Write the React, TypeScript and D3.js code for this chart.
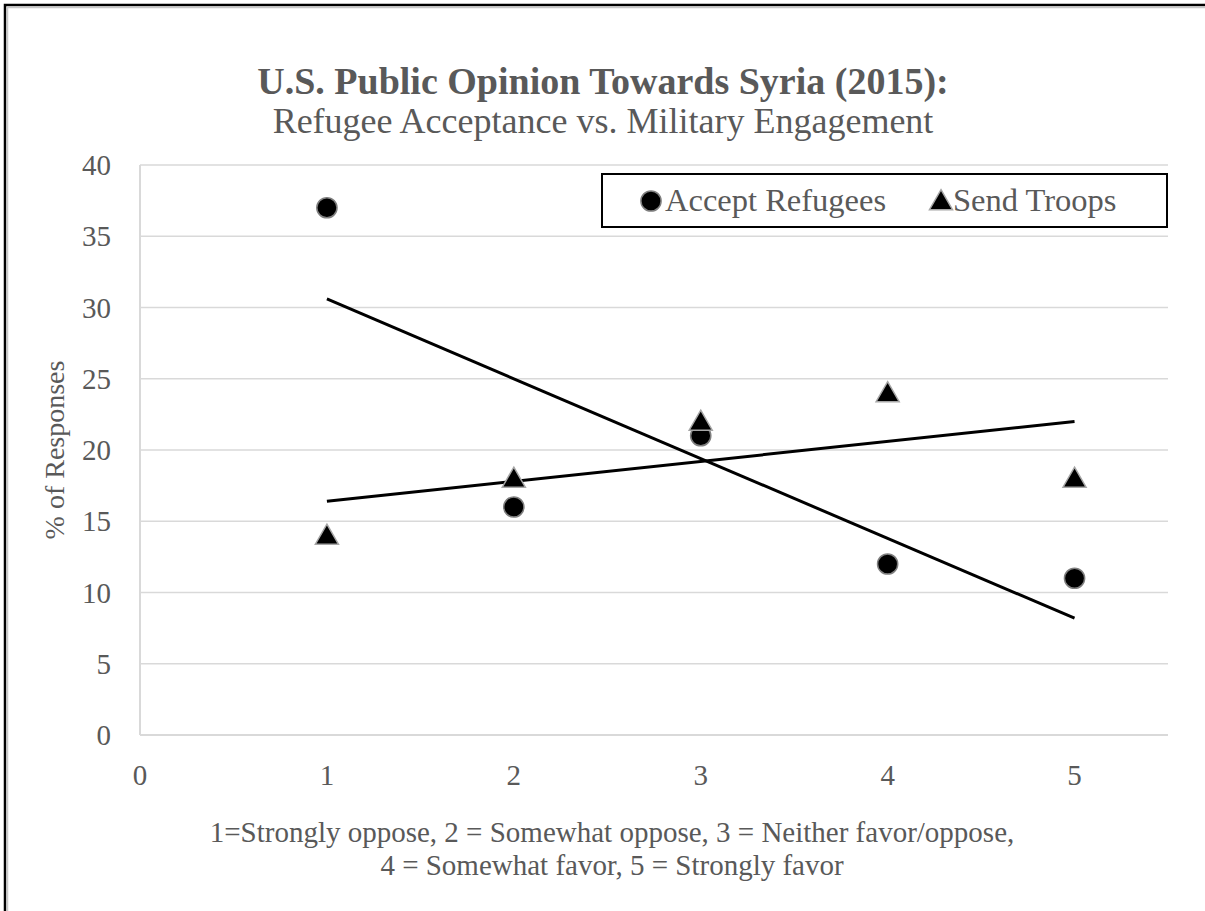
import React from "react";
import * as d3 from "d3";

// Response scale positions and survey shares (%)
const scalePoints = [1, 2, 3, 4, 5];
const acceptRefugees = [37, 16, 21, 12, 11];
const sendTroops = [14, 18, 22, 24, 18];
const yTicks = [0, 5, 10, 15, 20, 25, 30, 35, 40];
const xTicks = [0, 1, 2, 3, 4, 5];
const seriesNames = ["Accept Refugees", "Send Troops"];
const noteLines = [
  "1=Strongly oppose, 2 = Somewhat oppose, 3 = Neither favor/oppose,",
  "4 = Somewhat favor, 5 = Strongly favor",
];

const W = 1205;
const H = 911;
const plot = { left: 140, right: 1168, top: 165, bottom: 735 };
const FONT = "Liberation Serif, Times New Roman, serif";
const TEXT = "#595959";
const GRID = "#d9d9d9";

function linearFit(xs: number[], ys: number[]) {
  const mx = d3.mean(xs)!;
  const my = d3.mean(ys)!;
  const num = d3.sum(xs, (x, i) => (x - mx) * (ys[i] - my));
  const den = d3.sum(xs, (x) => (x - mx) ** 2);
  const slope = num / den;
  return (x: number) => my + slope * (x - mx);
}

export default function App() {
  const x = d3.scaleLinear().domain([0, 5.5]).range([plot.left, plot.right]);
  const y = d3.scaleLinear().domain([0, 40]).range([plot.bottom, plot.top]);

  const fitA = linearFit(scalePoints, acceptRefugees);
  const fitT = linearFit(scalePoints, sendTroops);
  const x0 = d3.min(scalePoints)!;
  const x1 = d3.max(scalePoints)!;
  const line = d3
    .line<[number, number]>()
    .x((d) => x(d[0]))
    .y((d) => y(d[1]));

  const tri = d3.symbol().type(d3.symbolTriangle).size(230)();
  const circ = d3.symbol().type(d3.symbolCircle).size(320)();

  return (
    <svg
      width={W}
      height={H}
      style={{ position: "absolute", left: 0, top: 0, background: "#fff" }}
      fontFamily={FONT}
    >
      <rect x={0} y={0} width={W} height={H} fill="#fff" />
      {/* outer frame */}
      <rect x={5} y={5} width={W + 20} height={H + 20} fill="none" stroke="#000" strokeWidth={2.5} />
      <rect x={7.5} y={7.5} width={W + 20} height={H + 20} fill="none" stroke="#c8c8c8" strokeWidth={1.5} />

      {/* title */}
      <text x={603} y={94} textAnchor="middle" fontSize={38} fontWeight="bold" fill={TEXT}>
        U.S. Public Opinion Towards Syria (2015):
      </text>
      <text x={603} y={133} textAnchor="middle" fontSize={36} fill={TEXT}>
        Refugee Acceptance vs. Military Engagement
      </text>

      {/* gridlines */}
      {yTicks.map((t) => (
        <line
          key={"g" + t}
          x1={plot.left}
          x2={plot.right}
          y1={y(t)}
          y2={y(t)}
          stroke={GRID}
          strokeWidth={1.5}
        />
      ))}
      <line x1={plot.left} x2={plot.left} y1={plot.top} y2={plot.bottom} stroke={GRID} strokeWidth={2} />
      <line x1={plot.left} x2={plot.right} y1={plot.bottom} y2={plot.bottom} stroke={GRID} strokeWidth={2} />

      {/* y tick labels */}
      {yTicks.map((t) => (
        <text key={"yt" + t} x={111} y={y(t) + 10} textAnchor="end" fontSize={29} fill={TEXT}>
          {t}
        </text>
      ))}
      {/* x tick labels */}
      {xTicks.map((t) => (
        <text key={"xt" + t} x={x(t)} y={plot.bottom + 50} textAnchor="middle" fontSize={29} fill={TEXT}>
          {t}
        </text>
      ))}

      <text
        transform={`translate(64, ${(plot.top + plot.bottom) / 2}) rotate(-90)`}
        textAnchor="middle"
        fontSize={28}
        fill={TEXT}
      >
        % of Responses
      </text>

      {/* trendlines */}
      <path d={line([[x0, fitA(x0)], [x1, fitA(x1)]])!} stroke="#000" strokeWidth={3} fill="none" />
      <path d={line([[x0, fitT(x0)], [x1, fitT(x1)]])!} stroke="#000" strokeWidth={3} fill="none" />

      {/* markers */}
      {scalePoints.map((p, i) => (
        <path
          key={"a" + i}
          d={circ!}
          transform={`translate(${x(p)},${y(acceptRefugees[i])})`}
          fill="#000"
          stroke="#7f7f7f"
          strokeWidth={1.5}
        />
      ))}
      {scalePoints.map((p, i) => (
        <path
          key={"t" + i}
          d={tri!}
          transform={`translate(${x(p)},${y(sendTroops[i]) + 2})`}
          fill="#000"
          stroke="#a6a6a6"
          strokeWidth={1.5}
        />
      ))}

      {/* legend */}
      <rect x={602} y={174} width={565} height={53} fill="#fff" stroke="#000" strokeWidth={2} />
      <path d={circ!} transform="translate(651,201)" fill="#000" stroke="#7f7f7f" strokeWidth={1.5} />
      <text x={665} y={211} fontSize={32.5} fill={TEXT}>
        {seriesNames[0]}
      </text>
      <path d={tri!} transform="translate(941,203)" fill="#000" stroke="#a6a6a6" strokeWidth={1.5} />
      <text x={953} y={211} fontSize={32.5} fill={TEXT}>
        {seriesNames[1]}
      </text>

      {/* scale note */}
      {noteLines.map((l, i) => (
        <text key={"n" + i} x={612} y={842 + i * 33} textAnchor="middle" fontSize={29} fill={TEXT}>
          {l}
        </text>
      ))}
    </svg>
  );
}
